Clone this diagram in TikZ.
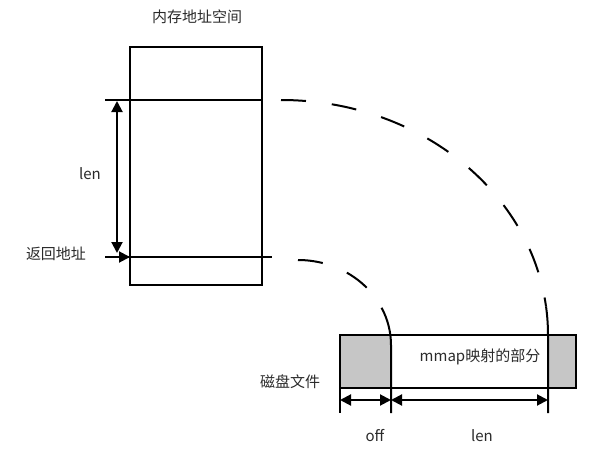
\documentclass[tikz,border=0pt]{standalone}
\usepackage{fontspec}
\setmainfont{Noto Sans CJK SC}
\usetikzlibrary{arrows.meta}
\definecolor{filegrey}{HTML}{C6C6C6}
\definecolor{txt}{HTML}{2A2A2A}
\tikzset{
  thick line/.style={line width=2pt, black},
  dashline/.style={line width=2pt, dash pattern=on 25pt off 26pt},
  lbl/.style={font=\fontsize{15}{17}\selectfont, text=txt, inner sep=0pt},
  dim/.style={line width=2pt, {Triangle[length=11pt,width=11pt]}-{Triangle[length=11pt,width=11pt]}},
}
\begin{document}
\begin{tikzpicture}[x=1pt,y=1pt]
\useasboundingbox (0,0) rectangle (603,-455);
% memory address space
\node[lbl] (title) at (197,-17) {内存地址空间};
\draw[thick line] (130,-47) rectangle (262,-285);
\coordinate (topL) at (105,-100);
\coordinate (topR) at (262,-100);
\coordinate (botL) at (105,-257);
\coordinate (botR) at (272,-257);
\draw[thick line] (topL) -- (topR);
\draw[thick line] (botL) -- (botR);
\coordinate (va) at (117,-101);
\coordinate (vb) at (117,-253);
\draw[dim] (vb) -- (va);
\node[lbl] (len1) at (90,-174) {len};
\node[lbl] (ret) at (56,-254) {返回地址};
\coordinate (rs) at (112,-257);
\coordinate (re) at (130,-257);
\draw[line width=2pt, -{Triangle[length=11pt,width=11pt]}] (rs) -- (re);
% file
\fill[filegrey] (340,-335) rectangle (391,-388);
\fill[filegrey] (548,-335) rectangle (576,-388);
\draw[thick line] (340,-335) rectangle (576,-388);
\draw[thick line] (340,-388) -- (340,-413);
\node[lbl] (mm) at (480,-357) {mmap映射的部分};
\node[lbl] (disk) at (290,-382) {磁盘文件};
% arcs
\draw[dashline] (281,-100) arc[start angle=90, end angle=7, x radius=267, y radius=235];
\draw[thick line] (281,-335) ++(7:267 and 235) arc[start angle=7, end angle=0, x radius=267, y radius=235] -- (548,-413);
\draw[dashline] (298,-260) arc[start angle=90, end angle=26, x radius=93, y radius=85];
\draw[thick line] (298,-345) ++(26:93 and 85) arc[start angle=26, end angle=0, x radius=93, y radius=85] -- (391,-413);
% dimensions
\coordinate (o1) at (340,-400);
\coordinate (o2) at (391,-400);
\coordinate (o3) at (548,-400);
\draw[dim] (o1) -- (o2);
\draw[dim] (o2) -- (o3);
\node[lbl] (off) at (375,-436) {off};
\node[lbl] (len2) at (482,-436) {len};
\end{tikzpicture}
\end{document}
